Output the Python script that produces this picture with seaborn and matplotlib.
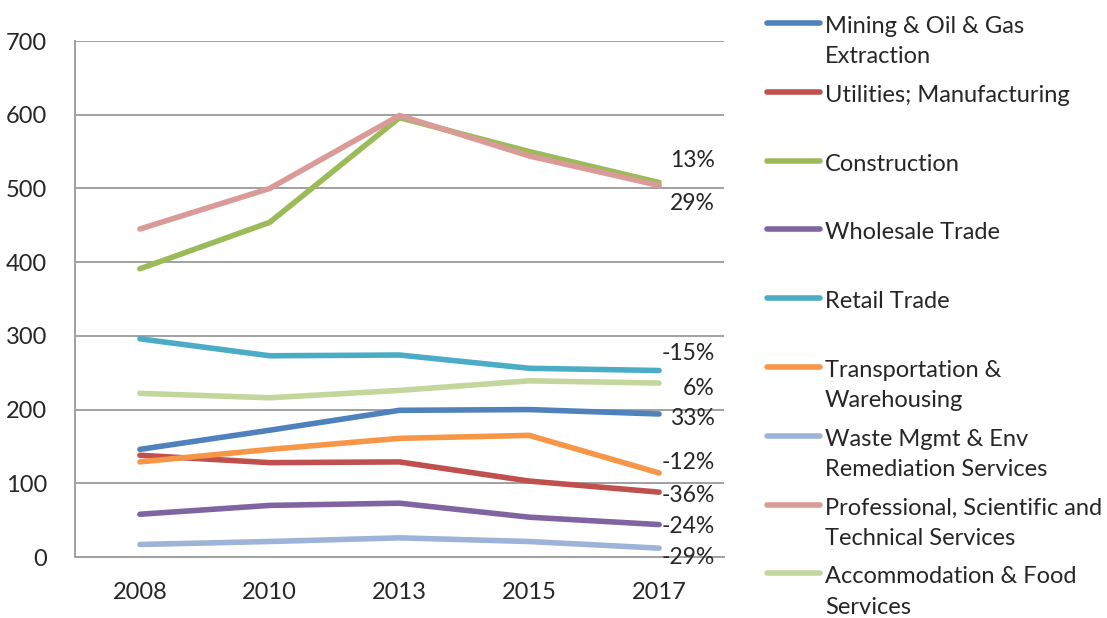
import numpy as np
import pandas as pd
import matplotlib
matplotlib.use("Agg")
import matplotlib.pyplot as plt
from matplotlib.lines import Line2D
import seaborn as sns

# data
years = ["2008", "2010", "2013", "2015", "2017"]
industries = [
    "Mining & Oil & Gas\nExtraction",
    "Utilities; Manufacturing",
    "Construction",
    "Wholesale Trade",
    "Retail Trade",
    "Transportation &\nWarehousing",
    "Waste Mgmt & Env\nRemediation Services",
    "Professional, Scientific and\nTechnical Services",
    "Accommodation & Food\nServices",
]
mining = [146, 172, 199, 200, 194]
utilities = [138, 128, 129, 103, 88]
construction = [391, 454, 596, 550, 508]
wholesale = [58, 70, 73, 54, 44]
retail = [296, 273, 274, 256, 253]
transport = [129, 146, 161, 165, 114]
waste = [17, 21, 26, 21, 12]
professional = [445, 500, 599, 544, 504]
accommodation = [222, 216, 226, 239, 236]
change_labels = ["33%", "-36%", "29%", "-24%", "-15%", "-12%", "-29%", "13%", "6%"]

colors = ["#4F81BD", "#C0504D", "#9BBB59", "#8064A2", "#4BACC6",
          "#F79646", "#9DB3D8", "#DA9A98", "#C3D69B"]
# vertical nudge of the % labels (data units)
label_dy = [-6, -5, -29, -3, 23, 14, -12, 34, -7]

series = [mining, utilities, construction, wholesale, retail,
          transport, waste, professional, accommodation]
df = pd.DataFrame({
    "year": years * len(industries),
    "industry": [name for name in industries for _ in years],
    "value": [v for s in series for v in s],
})

sns.set_style("white")
plt.rcParams["font.family"] = ["Lato", "DejaVu Sans"]

W, H = 1107, 618
fig = plt.figure(figsize=(W / 100, H / 100), dpi=100)
ax = fig.add_axes([75 / W, 1 - 557 / H, (724 - 75) / W, (557 - 41) / H])

sns.lineplot(data=df, x="year", y="value", hue="industry",
             hue_order=industries, palette=colors, linewidth=4,
             legend=False, sort=False, solid_capstyle="round", ax=ax)

grey = "#A0A0A0"
ax.set_xlim(-0.5, 4.5)
ax.set_ylim(0, 700)
ax.set_yticks(range(0, 800, 100))
ax.set_xticks(range(len(years)))
ax.set_xticklabels(years)
ax.set_xticks(np.arange(-0.5, len(years), 1), minor=True)
ax.set_xlabel("")
ax.set_ylabel("")
ax.yaxis.grid(True, color=grey, lw=1.4)
ax.set_axisbelow(True)
for side in ["top", "right"]:
    ax.spines[side].set_visible(False)
for side in ["left", "bottom"]:
    ax.spines[side].set_color(grey)
    ax.spines[side].set_linewidth(1.4)
ax.tick_params(axis="x", which="major", length=0, pad=18, labelsize=17)
ax.tick_params(axis="x", which="minor", length=5.5, width=1.4, color=grey)
ax.tick_params(axis="y", length=6, width=1.4, color=grey, pad=14, labelsize=17)

# % change labels at the right end
for s, lab, dy in zip(series, change_labels, label_dy):
    ax.text(4.43, s[-1] + dy, lab, ha="right", va="center", fontsize=16.5)

# legend drawn on the figure, one slot per series
for i, (name, c) in enumerate(zip(industries, colors)):
    y = 1 - (23 + i * 68.8) / H
    fig.add_artist(Line2D([767 / W, 820 / W], [y, y], transform=fig.transFigure,
                          color=c, lw=4, solid_capstyle="round"))
    fig.text(825 / W, y + 7 / H, name, ha="left", va="top",
             fontsize=17, linespacing=1.55)

fig.savefig("out.png", dpi=100)
